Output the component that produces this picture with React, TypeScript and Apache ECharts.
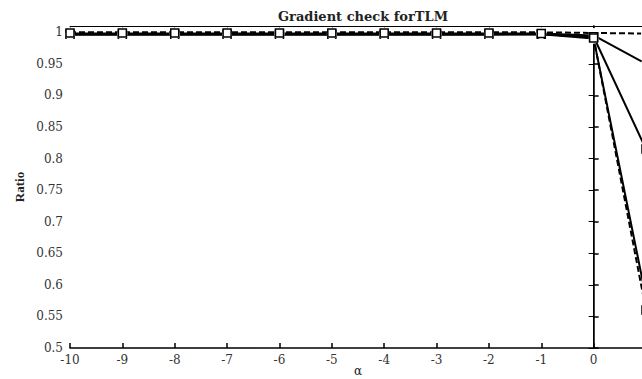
import React, { useEffect, useRef } from "react";
import * as echarts from "echarts";

const alphas = [-10, -9, -8, -7, -6, -5, -4, -3, -2, -1, 0, 1];
const seriesA = [1.0, 1.0, 1.0, 1.0, 1.0, 1.0, 1.0, 1.0, 1.0, 1.0, 0.999, 0.998];
const seriesB = [0.998, 0.998, 0.998, 0.998, 0.998, 0.998, 0.998, 0.998, 0.998, 0.998, 0.995, 0.95];
const seriesC = [0.997, 0.997, 0.997, 0.997, 0.997, 0.997, 0.997, 0.997, 0.997, 0.997, 0.993, 0.815];
const seriesD = [0.996, 0.996, 0.996, 0.996, 0.996, 0.996, 0.996, 0.996, 0.996, 0.997, 0.99, 0.58];
const seriesE = [0.999, 0.999, 0.999, 0.999, 0.999, 0.999, 0.999, 0.999, 0.999, 0.998, 0.991, 0.56];
const yTicks = ["0.5", "0.55", "0.6", "0.65", "0.7", "0.75", "0.8", "0.85", "0.9", "0.95", "1"];

const FONT = "'DejaVu Serif', 'Liberation Serif', serif";
const FONT2 = "'Liberation Serif', 'Times New Roman', serif";

export default function App() {
  const ref = useRef<HTMLDivElement>(null);
  useEffect(() => {
    if (!ref.current) return;
    const chart = echarts.init(ref.current, null, { renderer: "svg" });
    const mk = (vals: number[]) => alphas.map((a, i) => [a, vals[i]]);
    const base = (name: string, vals: number[], symbol: string, dashed: boolean) => ({
      name,
      type: "line",
      data: mk(vals),
      symbol,
      symbolSize: 8,
      lineStyle: { color: "#000", width: 2, type: dashed ? [6, 3] : "solid" },
      itemStyle: { color: "#fff", borderColor: "#000", borderWidth: 1.5 },
      z: 3,
    });
    chart.setOption({
      animation: false,
      backgroundColor: "#fff",
      title: {
        text: "Gradient check forTLM",
        left: 358,
        textAlign: "center",
        top: 5,
        textStyle: { fontFamily: FONT, fontWeight: "bold", fontSize: 13, color: "#222" },
      },
      grid: { left: 70, right: -4, top: 26, bottom: 31, outerBoundsMode: "none", containLabel: false },
      xAxis: [
        {
          type: "value",
          min: -10,
          max: 1,
          interval: 1,
          name: "α",
          nameLocation: "middle",
          nameGap: 17,
          nameMoveOverlap: false,
          nameTextStyle: { fontFamily: FONT, fontSize: 12, color: "#222" },
          axisLine: { lineStyle: { color: "#000", width: 1.5 } },
          axisTick: { inside: true, length: 5, lineStyle: { color: "#000", width: 1.5 } },
          axisLabel: { fontFamily: FONT, fontSize: 12, color: "#333", margin: 6, showMaxLabel: false },
          splitLine: { show: false },
        },
        {
          type: "value",
          position: "top",
          min: -10,
          max: 1,
          interval: 1,
          axisLine: { show: true, lineStyle: { color: "#000", width: 1 } },
          axisTick: { show: true, inside: true, length: 5, lineStyle: { color: "#000" } },
          axisLabel: { show: false },
          splitLine: { show: false },
        },
      ],
      yAxis: [
        {
          type: "value",
          min: 0.5,
          max: 1.01,
          interval: 0.05,
          name: "Ratio",
          nameLocation: "middle",
          nameGap: 44,
          nameRotate: 90,
          nameMoveOverlap: false,
          nameTextStyle: { fontFamily: FONT2, fontSize: 13, fontWeight: "bold", color: "#222" },
          axisLine: { show: true, lineStyle: { color: "#000", width: 1.5 } },
          axisTick: { inside: true, length: 5, lineStyle: { color: "#000", width: 1.5 } },
          axisLabel: {
            fontFamily: FONT,
            fontSize: 12,
            color: "#333",
            margin: 7,
            showMaxLabel: false,
            formatter: (v: number) => {
              const idx = Math.round((v - 0.5) / 0.05);
              return Math.abs(v - (0.5 + idx * 0.05)) < 1e-6 ? yTicks[idx] ?? "" : "";
            },
          },
          splitLine: { show: false },
        },
        {
          type: "value",
          position: "right",
          min: 0.5,
          max: 1.01,
          interval: 0.05,
          axisLine: { show: true, lineStyle: { color: "#000" } },
          axisTick: { show: true, inside: true, length: 5, lineStyle: { color: "#000" } },
          axisLabel: { show: false },
          splitLine: { show: false },
        },
      ],
      series: [
        base("A", seriesA, "emptyCircle", true),
        base("B", seriesB, "emptyCircle", false),
        base("C", seriesC, "rect", false),
        base("D", seriesD, "emptyCircle", false),
        base("E", seriesE, "rect", true),
      ],
    });
    return () => chart.dispose();
  }, []);
  return (
    <div
      ref={ref}
      style={{ position: "fixed", left: 0, top: 0, width: 642, height: 379, background: "#fff" }}
    />
  );
}
